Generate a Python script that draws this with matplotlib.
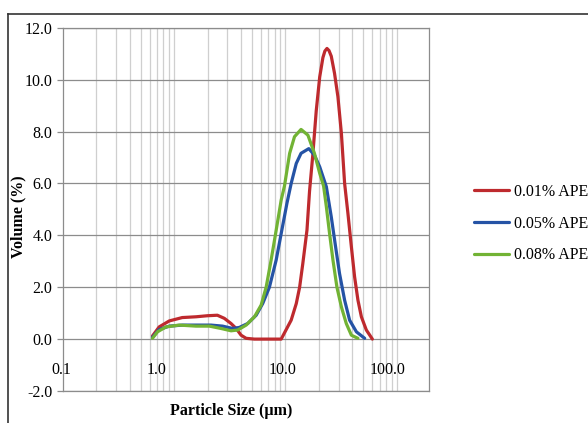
import matplotlib
matplotlib.use("Agg")
import matplotlib.pyplot as plt
from matplotlib.lines import Line2D
from matplotlib.transforms import ScaledTranslation

plt.rcParams['font.family'] = ['Liberation Serif', 'DejaVu Serif']

# ---- data (particle size in µm, volume in %) ----
red_x = [0.637, 0.732, 0.902, 1.18, 1.57, 1.98, 2.44, 2.82, 3.24, 3.60, 3.99, 4.43,
         5.26, 7.17, 9.15, 10.1, 11.25, 12.5, 13.4, 14.3, 15.6, 16.45, 17.6, 18.9,
         20.3, 21.7, 22.6, 23.6, 24.6, 25.8, 27.6, 29.6, 31.8, 34.0, 36.4, 39.1, 41.8,
         44.8, 48.1, 53.3, 60.4]
red_y = [0.12, 0.47, 0.70, 0.83, 0.86, 0.90, 0.92, 0.80, 0.60, 0.41, 0.15, 0.03,
         0.0, 0.0, 0.0, 0.35, 0.73, 1.37, 2.0, 2.9, 4.2, 5.7, 7.1, 8.8,
         10.1, 10.85, 11.1, 11.2, 11.12, 10.9, 10.24, 9.34, 7.93, 6.0, 4.85, 3.56, 2.4,
         1.5, 0.86, 0.35, 0.0]

blue_x = [0.637, 0.732, 0.902, 1.19, 1.57, 2.14, 2.72, 3.35, 3.85, 4.57, 5.45, 6.24,
          7.17, 8.25, 9.15, 10.3, 11.25, 12.5, 13.8, 16.2, 18.2, 20.3, 23.3, 25.8,
          28.2, 30.6, 34.0, 37.7, 43.4, 51.5]
blue_y = [0.07, 0.37, 0.50, 0.54, 0.54, 0.54, 0.50, 0.41, 0.45, 0.60, 0.92, 1.37,
          2.0, 3.05, 4.07, 5.23, 6.0, 6.77, 7.16, 7.34, 7.09, 6.64, 5.87, 4.71,
          3.56, 2.53, 1.5, 0.73, 0.28, 0.03]

green_x = [0.637, 0.707, 0.842, 1.11, 1.57, 2.07, 2.63, 3.24, 3.72, 4.43, 5.26, 6.04,
           6.70, 7.43, 8.25, 9.15, 9.79, 10.9, 12.05, 13.8, 15.9, 18.2, 20.3, 22.0,
           23.3, 24.9, 26.7, 29.0, 31.8, 35.2, 39.1, 44.8]
green_y = [0.03, 0.28, 0.47, 0.54, 0.50, 0.50, 0.41, 0.32, 0.35, 0.54, 0.86, 1.31,
           2.0, 3.05, 4.2, 5.36, 5.9, 7.16, 7.8, 8.08, 7.86, 7.16, 6.39, 5.9,
           5.1, 4.07, 3.05, 2.0, 1.24, 0.6, 0.15, 0.03]

series_labels = ['0.01% APE', '0.05% APE', '0.08% APE']
series_colors = ['#BE2A2E', '#2553A5', '#72B334']

x_tick_values = [0.1, 1, 10, 100]
x_tick_labels = ['0.1', '1.0', '10.0', '100.0']
y_ticks = [-2, 0, 2, 4, 6, 8, 10, 12]

# ---- figure ----
W, H = 588, 423
fig = plt.figure(figsize=(W / 100, H / 100), dpi=100)
ax = fig.add_axes([63 / W, 1 - 391 / H, (429 - 63) / W, (391 - 27.7) / H])

ax.set_xscale('log')
ax.set_xlim(0.1, 195)
ax.set_ylim(-2, 12)

# vertical gridlines (light)
minor_pos = [m * 10.0 ** e for e in (-1, 0, 1) for m in range(2, 10)] + [1, 10, 100]
for v in minor_pos:
    ax.axvline(v, color='#CFCFCF', lw=0.9, zorder=0)
# horizontal gridlines (darker)
for v in y_ticks:
    ax.axhline(v, color='#8C8C8C', lw=0.9, zorder=1)

for xs, ys, lab, col in zip([red_x, blue_x, green_x], [red_y, blue_y, green_y],
                            series_labels, series_colors):
    ax.plot(xs, ys, color=col, lw=2.3, label=lab, solid_joinstyle='round',
            solid_capstyle='round', zorder=3)

for sp in ax.spines.values():
    sp.set_color('#8C8C8C')
    sp.set_linewidth(0.9)

ax.set_yticks(y_ticks)
ax.set_yticklabels([f'{v:.1f}' for v in y_ticks], fontsize=11.5)
ax.tick_params(axis='y', direction='out', length=4.5, width=0.9, color='#8C8C8C', pad=3)
ax.set_xticks([])
ax.xaxis.set_minor_locator(matplotlib.ticker.NullLocator())

# x tick labels drawn at the y=0 crossing (as in the original chart)
label_shift_px = [-2, -18, -3, -9]
for v, t, dx in zip(x_tick_values, x_tick_labels, label_shift_px):
    tr = ax.transData + ScaledTranslation(dx / 100, 0, fig.dpi_scale_trans)
    ax.text(v, -1.2, t, transform=tr, ha='center', va='center', fontsize=11.5)

ax.set_xlabel('Particle Size (µm)', fontsize=11.5, fontweight='bold')
ax.xaxis.set_label_coords((231 - 63) / 366, (391 - 403) / 363)
ax.set_ylabel('Volume (%)', fontsize=11.5, fontweight='bold')
ax.yaxis.set_label_coords((26 - 63) / 366, (391 - 217) / 363)

leg = ax.legend(loc='upper left', bbox_to_anchor=(474 / W, 1 - 184 / H),
                bbox_transform=fig.transFigure, frameon=False, fontsize=11.5,
                handlelength=2.2, handletextpad=0.3, labelspacing=0.98,
                borderpad=0, borderaxespad=0)
for h in leg.get_lines():
    h.set_linewidth(2.3)

# outer chart frame (top and left edges visible)
fig.add_artist(Line2D([8 / W, 1], [1 - 14 / H, 1 - 14 / H], transform=fig.transFigure,
                      color='#333333', lw=1.2))
fig.add_artist(Line2D([8 / W, 8 / W], [0, 1 - 14 / H], transform=fig.transFigure,
                      color='#333333', lw=1.2))

fig.savefig('out.png', dpi=100)
